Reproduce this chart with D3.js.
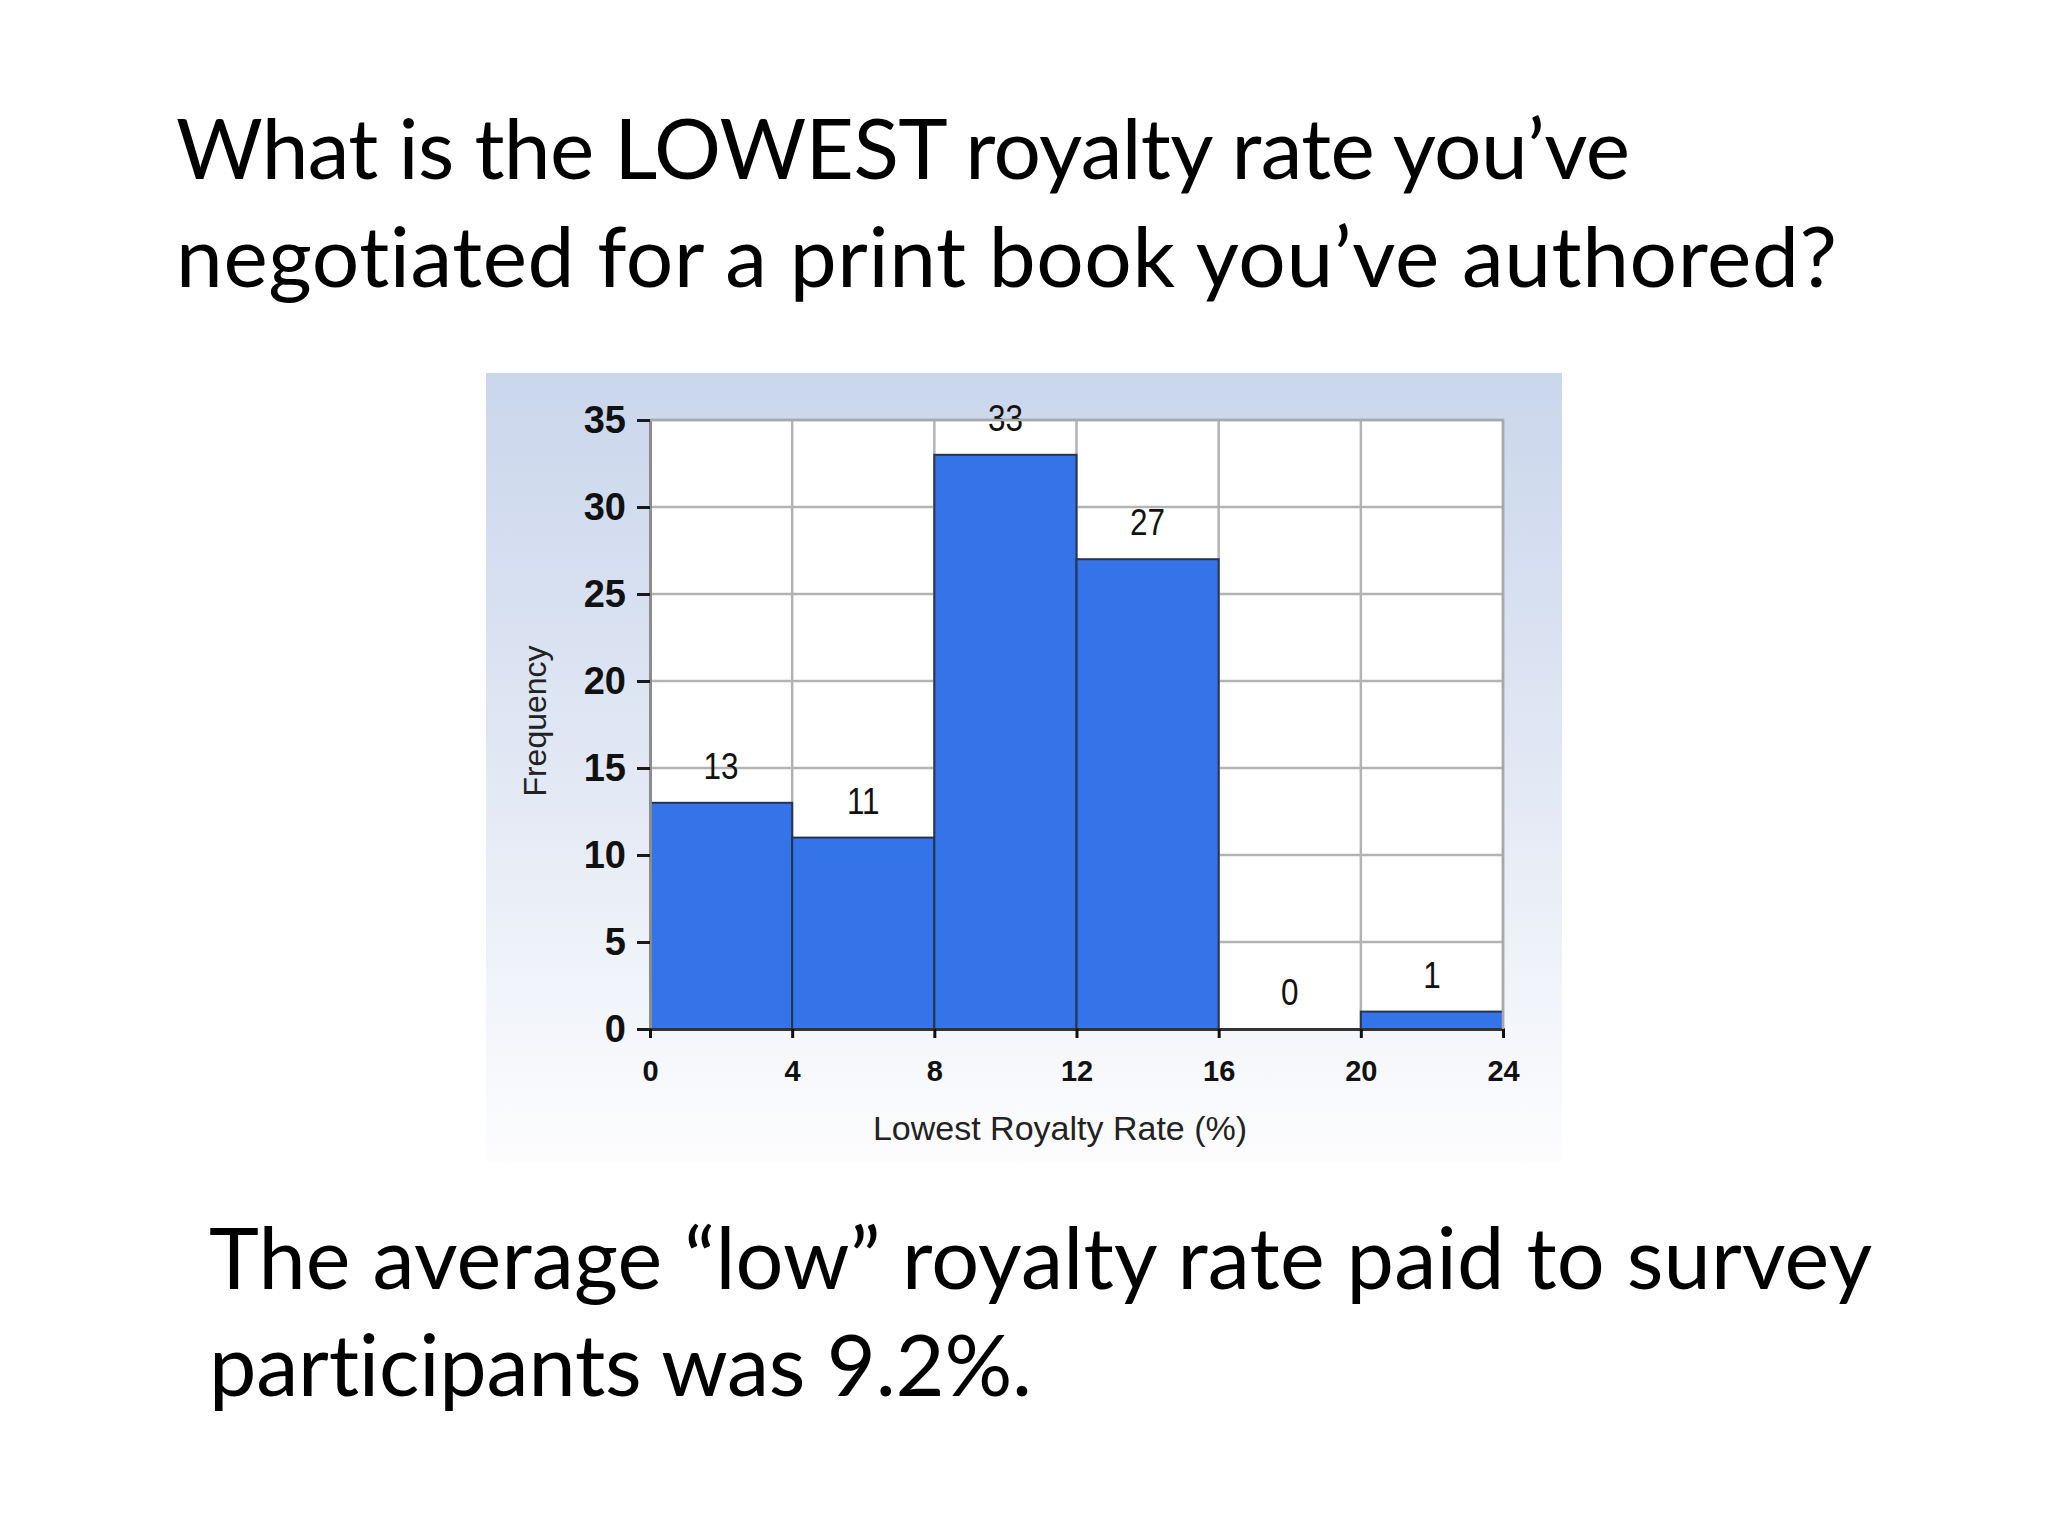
<!DOCTYPE html>
<html>
<head>
<meta charset="utf-8">
<script src="https://cdn.jsdelivr.net/npm/d3@7"></script>
<style>
  html, body { margin: 0; padding: 0; background: #fff; }
  svg { display: block; }
</style>
</head>
<body>
<div id="chart"></div>
<script>
// histogram data
const binEdges = [0, 4, 8, 12, 16, 20, 24];
const frequencies = [13, 11, 33, 27, 0, 1];
const yTickValues = [0, 5, 10, 15, 20, 25, 30, 35];
const xTickValues = [0, 4, 8, 12, 16, 20, 24];

const titleLines = ["What is the LOWEST royalty rate you\u2019ve", "negotiated for a print book you\u2019ve authored?"];
const noteLines = ["The average \u201clow\u201d royalty rate paid to survey", "participants was 9.2%."];
const xAxisTitle = "Lowest Royalty Rate (%)";
const yAxisTitle = "Frequency";

const W = 2048, H = 1536;

const svg = d3.select("#chart").append("svg")
    .attr("width", W)
    .attr("height", H);

svg.append("rect").attr("width", W).attr("height", H).attr("fill", "#fff");

//slide text blocks: one font size per block, each line stretched to its measured width
function textBlock(lines, x, baselines, widths) {
    const g = svg.append("g")
        .style("font-family", "Lato, 'Open Sans', sans-serif")
        .style("font-variant-ligatures", "none")
        .attr("fill", "#000");
    const sizes = lines.map((line, i) => {
        const probe = g.append("text").style("font-size", "100px").text(line);
        const s = 100 * widths[i] / probe.node().getComputedTextLength();
        probe.remove();
        return s;
    });
    const size = d3.mean(sizes);
    g.selectAll("text")
        .data(lines)
        .join("text")
        .attr("x", x)
        .attr("y", (d, i) => baselines[i])
        .attr("textLength", (d, i) => widths[i])
        .attr("lengthAdjust", "spacing")
        .style("font-size", `${size}px`)
        .text(d => d);
}

textBlock(titleLines, 176, [179, 287], [1454, 1661]);
textBlock(noteLines, 209, [1289, 1396], [1663, 823]);

//chart panel
const panel = { x0: 486, y0: 373, x1: 1562, y1: 1163 };
const plot = { left: 650, right: 1503, top: 420, bottom: 1029 };

const defs = svg.append("defs");
const grad = defs.append("linearGradient")
    .attr("id", "panelGrad")
    .attr("x1", 0).attr("y1", 0).attr("x2", 0).attr("y2", 1);
grad.append("stop").attr("offset", "0%").attr("stop-color", "#cad6ec");
grad.append("stop").attr("offset", "55%").attr("stop-color", "#e4eaf5");
grad.append("stop").attr("offset", "100%").attr("stop-color", "#fdfdfe");

svg.append("rect")
    .attr("x", panel.x0).attr("y", panel.y0)
    .attr("width", panel.x1 - panel.x0).attr("height", panel.y1 - panel.y0)
    .attr("fill", "url(#panelGrad)");

const x = d3.scaleLinear().domain([0, 24]).range([plot.left, plot.right]);
const y = d3.scaleLinear().domain([0, 35]).range([plot.bottom, plot.top]);

svg.append("rect")
    .attr("x", x(0)).attr("y", y(35))
    .attr("width", x(24) - x(0)).attr("height", y(0) - y(35))
    .attr("fill", "#fff");

//grid
const grid = svg.append("g").attr("stroke", "#b3b3b3").attr("stroke-width", 2.5);
grid.selectAll(".hg")
    .data(yTickValues.filter(d => d > 0))
    .join("line")
    .attr("x1", x(0)).attr("x2", x(24))
    .attr("y1", d => y(d)).attr("y2", d => y(d));
grid.selectAll(".vg")
    .data(xTickValues.filter(d => d > 0))
    .join("line")
    .attr("x1", d => x(d)).attr("x2", d => x(d))
    .attr("y1", y(0)).attr("y2", y(35));

//bars
const bins = frequencies.map((v, i) => ({ x0: binEdges[i], x1: binEdges[i + 1], value: v }));

svg.append("g").selectAll("rect")
    .data(bins.filter(d => d.value > 0))
    .join("rect")
    .attr("x", d => x(d.x0))
    .attr("y", d => y(d.value))
    .attr("width", d => x(d.x1) - x(d.x0))
    .attr("height", d => y(0) - y(d.value))
    .attr("fill", "#3474e8")
    .attr("stroke", "#27344f")
    .attr("stroke-width", 2);

//value labels, narrowed to match the condensed chart font
svg.append("g").selectAll("text")
    .data(bins)
    .join("text")
    .attr("transform", d => `translate(${x((d.x0 + d.x1) / 2)},${y(d.value) - 24}) scale(0.85,1)`)
    .attr("text-anchor", "middle")
    .style("font-family", "'Liberation Sans', Arial, sans-serif")
    .style("font-size", "37px")
    .attr("fill", "#111")
    .text(d => d.value);

//axes
const yAxis = svg.append("g")
    .attr("transform", `translate(${plot.left},0)`)
    .call(d3.axisLeft(y).tickValues(yTickValues).tickSize(13).tickPadding(11));
yAxis.select(".domain").attr("stroke", "#8c8c8c").attr("stroke-width", 3);
yAxis.selectAll(".tick line").attr("stroke", "#1a1a1a").attr("stroke-width", 3);
yAxis.selectAll(".tick text")
    .style("font-family", "'Liberation Sans', Arial, sans-serif")
    .style("font-weight", "bold")
    .style("font-size", "38px")
    .attr("fill", "#111");

const xAxis = svg.append("g")
    .attr("transform", `translate(0,${plot.bottom})`)
    .call(d3.axisBottom(x).tickValues(xTickValues).tickSize(9).tickPadding(22));
xAxis.select(".domain").attr("stroke", "#333").attr("stroke-width", 3);
xAxis.selectAll(".tick line").attr("stroke", "#111").attr("stroke-width", 3);
xAxis.selectAll(".tick text")
    .style("font-family", "'Liberation Sans', Arial, sans-serif")
    .style("font-weight", "bold")
    .style("font-size", "29px")
    .attr("fill", "#111");

//plot border on top and right
svg.append("path")
    .attr("d", `M${x(0)},${y(35)}H${x(24)}V${y(0)}`)
    .attr("fill", "none")
    .attr("stroke", "#a8a8a8")
    .attr("stroke-width", 2.5);

svg.append("text")
    .attr("x", 1060)
    .attr("y", 1140)
    .attr("text-anchor", "middle")
    .style("font-family", "'Liberation Sans', Arial, sans-serif")
    .style("font-size", "34px")
    .attr("fill", "#222")
    .text(xAxisTitle);

svg.append("text")
    .attr("transform", "translate(546,721) rotate(-90)")
    .attr("text-anchor", "middle")
    .style("font-family", "'Liberation Sans', Arial, sans-serif")
    .style("font-size", "32px")
    .attr("fill", "#222")
    .text(yAxisTitle);
</script>
</body>
</html>
